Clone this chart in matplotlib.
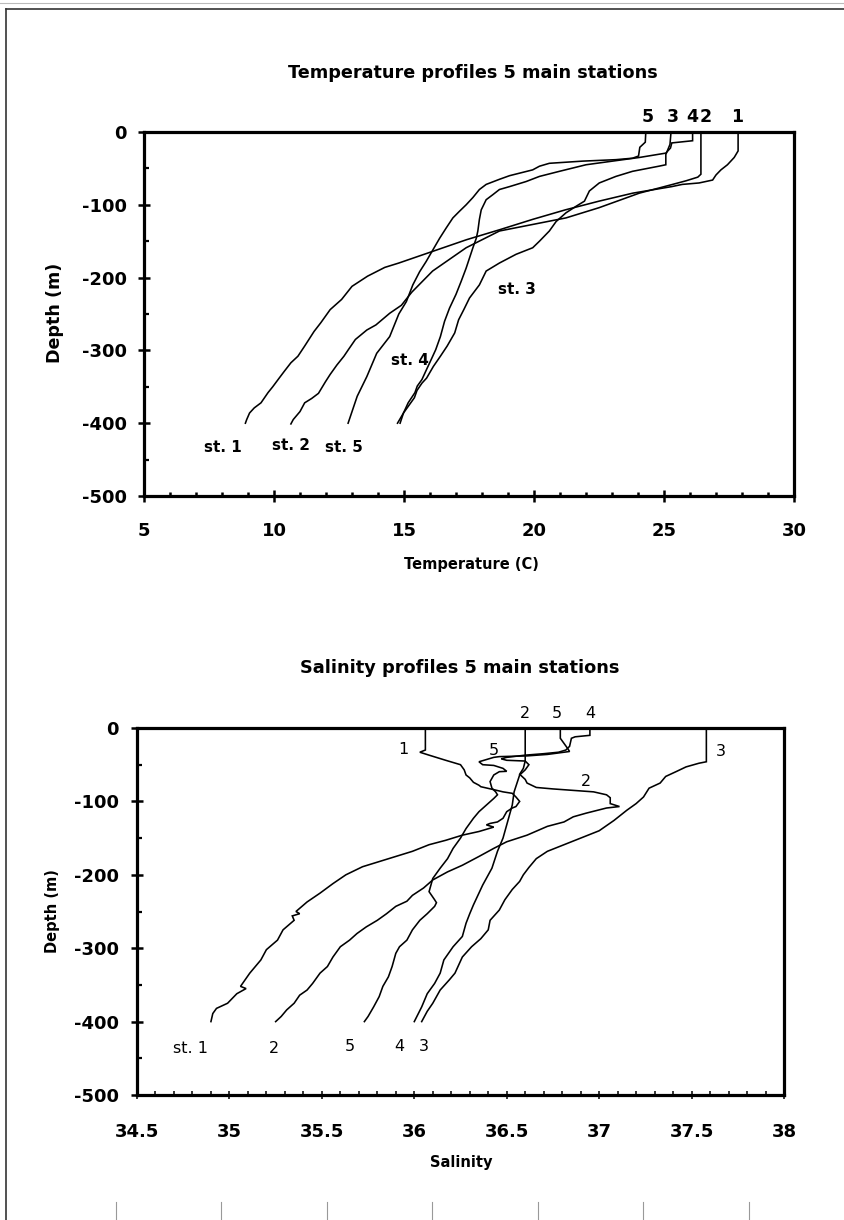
import matplotlib
matplotlib.use("Agg")
import matplotlib.pyplot as plt
from matplotlib.ticker import MultipleLocator, FuncFormatter
from matplotlib.lines import Line2D

# ---- temperature profiles (deg C vs depth in m) ----
t1_temp = [27.85, 27.85, 27.7, 27.44, 27.19, 27.0, 26.87, 26.35, 25.7, 25.3, 23.8, 22.5,
           21.2, 19.95, 18.7, 17.4, 16.1, 14.8, 14.26, 13.6, 13.0, 12.6, 12.16, 11.8, 11.54,
           11.18, 10.92, 10.65, 10.39, 10.2, 9.95, 9.77, 9.5, 9.24, 9.06, 8.95, 8.9]
t1_depth = [0, -26, -35, -45, -52, -59, -66, -70, -72, -75, -84, -95,
            -107, -120, -134, -148, -164, -180, -186, -198, -212, -230, -244, -262, -274,
            -294, -308, -317, -329, -338, -350, -358, -372, -379, -386, -395, -400]

t2_temp = [26.42, 26.42, 26.3, 25.85, 25.33, 24.8, 24.05, 22.5, 21.23, 19.95, 18.67, 17.39,
           16.1, 15.3, 14.9, 14.45, 13.92, 13.57, 13.13, 12.86, 12.69, 12.42, 12.16, 11.98,
           11.71, 11.45, 11.18, 11.0, 10.74, 10.65]
t2_depth = [0, -58, -62, -67, -72, -77, -84, -104, -118, -127, -136, -159,
            -191, -220, -238, -249, -265, -272, -285, -299, -308, -320, -333, -343,
            -359, -366, -372, -384, -395, -401]

t3_temp = [25.27, 25.23, 25.07, 25.07, 24.8, 23.79, 23.15, 22.51, 22.13, 21.94, 21.62, 21.23,
           20.85, 20.59, 20.21, 19.95, 19.31, 18.67, 18.16, 17.9, 17.52, 17.3, 17.1, 16.95,
           16.66, 16.4, 16.13, 15.87, 15.69, 15.5, 15.4, 15.16, 14.98, 14.85]
t3_depth = [0, -17, -31, -45, -47, -54, -61, -70, -81, -95, -102, -111,
            -123, -136, -150, -159, -168, -180, -191, -210, -228, -244, -258, -276,
            -294, -308, -322, -338, -345, -355, -365, -377, -386, -400]

t4_temp = [26.1, 26.1, 25.3, 25.25, 25.07, 24.56, 24.05, 23.02, 22.0, 20.98, 20.21, 19.7,
           19.06, 18.67, 18.42, 18.16, 17.97, 17.9, 17.84, 17.78, 17.65, 17.52, 17.39, 17.2,
           17.0, 16.75, 16.56, 16.4, 16.22, 16.04, 15.87, 15.69, 15.51, 15.42, 15.16, 14.98, 14.75]
t4_depth = [0, -12, -15, -22, -29, -32, -35, -40, -45, -54, -61, -68,
            -75, -79, -86, -93, -107, -120, -136, -146, -159, -173, -187, -205,
            -223, -242, -260, -281, -299, -313, -326, -340, -349, -358, -372, -386, -400]

t5_temp = [24.3, 24.28, 24.07, 24.02, 23.79, 23.15, 21.87, 20.59, 20.21, 19.95, 19.06, 18.67,
           18.16, 17.9, 17.65, 17.39, 17.13, 16.88, 16.62, 16.37, 16.11, 15.85, 15.6, 15.34,
           15.09, 14.8, 14.45, 13.95, 13.57, 13.2, 12.85]
t5_depth = [0, -14, -21, -33, -36, -38, -40, -43, -47, -52, -60, -65,
            -72, -79, -90, -100, -109, -118, -132, -146, -162, -178, -192, -210,
            -233, -250, -281, -304, -336, -363, -400]

# ---- salinity profiles ----
s1_sal = [36.06, 36.06, 36.03, 36.08, 36.17, 36.25, 36.27, 36.28, 36.3, 36.32, 36.35, 36.36,
          36.43, 36.48, 36.53, 36.55, 36.57, 36.55, 36.53, 36.5, 36.48, 36.45, 36.41, 36.39,
          36.43, 36.35, 36.26, 36.17, 36.08, 35.99, 35.9, 35.81, 35.72, 35.63, 35.56, 35.49,
          35.42, 35.36, 35.38, 35.34, 35.35, 35.29, 35.26, 35.2, 35.17, 35.11, 35.06, 35.09,
          35.04, 34.99, 34.93, 34.91, 34.9]
s1_depth = [0, -30, -33, -37, -44, -50, -57, -64, -68, -74, -78, -80,
            -84, -87, -89, -94, -100, -107, -109, -114, -123, -128, -130, -132,
            -135, -141, -146, -153, -159, -168, -175, -182, -189, -200, -212, -225,
            -237, -250, -253, -256, -262, -275, -289, -302, -316, -334, -352, -355,
            -362, -375, -382, -389, -400]

s2_sal = [36.6, 36.6, 36.59, 36.57, 36.6, 36.61, 36.66, 36.75, 36.86, 36.97, 37.04, 37.06,
          37.06, 37.11, 37.04, 36.93, 36.86, 36.81, 36.72, 36.61, 36.5, 36.43, 36.35, 36.26,
          36.18, 36.1, 36.05, 35.99, 35.96, 35.9, 35.85, 35.8, 35.74, 35.69, 35.65, 35.6,
          35.56, 35.53, 35.49, 35.45, 35.42, 35.38, 35.35, 35.31, 35.28, 35.25]
s2_depth = [0, -45, -55, -63, -70, -75, -81, -83, -85, -87, -91, -95,
            -103, -107, -109, -116, -121, -128, -134, -146, -155, -164, -175, -187,
            -196, -207, -218, -228, -236, -243, -253, -262, -271, -280, -289, -298,
            -312, -325, -334, -348, -357, -364, -375, -384, -393, -400]

s3_sal = [37.58, 37.58, 37.54, 37.47, 37.42, 37.36, 37.33, 37.27, 37.24, 37.2, 37.15, 37.08,
          37.0, 36.9, 36.81, 36.72, 36.66, 36.62, 36.59, 36.57, 36.53, 36.49, 36.46, 36.41,
          36.4, 36.36, 36.31, 36.26, 36.22, 36.19, 36.14, 36.1, 36.07, 36.04]
s3_depth = [0, -46, -48, -53, -59, -66, -75, -82, -94, -103, -112, -126,
            -140, -150, -159, -168, -178, -190, -200, -209, -220, -234, -248, -262,
            -275, -287, -298, -312, -334, -343, -357, -375, -386, -400]

s4_sal = [36.95, 36.95, 36.87, 36.85, 36.84, 36.82, 36.78, 36.7, 36.6, 36.5, 36.47, 36.5,
          36.6, 36.62, 36.6, 36.57, 36.54, 36.53, 36.5, 36.48, 36.45, 36.42, 36.37, 36.32,
          36.3, 36.28, 36.26, 36.21, 36.16, 36.14, 36.11, 36.07, 36.04, 36.0]
s4_depth = [0, -10, -12, -14, -25, -30, -33, -35, -37, -40, -42, -44,
            -45, -50, -57, -64, -87, -105, -132, -150, -168, -191, -214, -241,
            -253, -266, -284, -298, -316, -334, -348, -362, -380, -400]

s5_sal = [36.79, 36.79, 36.81, 36.83, 36.84, 36.72, 36.61, 36.46, 36.43, 36.35, 36.37, 36.43,
          36.48, 36.5, 36.46, 36.43, 36.41, 36.42, 36.44, 36.45, 36.43, 36.39, 36.35, 36.32,
          36.28, 36.25, 36.21, 36.18, 36.14, 36.1, 36.09, 36.08, 36.11, 36.12, 36.11, 36.07,
          36.03, 35.99, 35.96, 35.92, 35.9, 35.88, 35.86, 35.83, 35.81, 35.78, 35.75, 35.73]
s5_depth = [0, -14, -21, -28, -32, -36, -38, -39, -40, -46, -50, -51,
            -55, -59, -59.5, -64, -73, -82, -87, -91, -96, -105, -114, -123,
            -137, -150, -164, -178, -191, -205, -214, -223, -234, -238, -243, -253,
            -262, -275, -289, -298, -307, -325, -339, -352, -366, -380, -393, -400]

# station tags: (text, x, depth)
temp_top_tags = [("5", 24.38), ("3", 25.35), ("4", 26.08), ("2", 26.62), ("1", 27.81)]
temp_tags = [("st. 1", 8.04, -433), ("st. 2", 10.65, -431), ("st. 5", 12.69, -434),
             ("st. 4", 15.23, -314), ("st. 3", 19.35, -217)]
sal_top_tags = [("2", 36.6), ("5", 36.77), ("4", 36.95)]
sal_inner_tags = [("1", 35.94, -29), ("5", 36.43, -31), ("2", 36.93, -73), ("3", 37.66, -32)]
sal_bottom_tags = [("st. 1", 34.79, -436), ("2", 35.24, -436), ("5", 35.65, -434),
                   ("4", 35.92, -434), ("3", 36.05, -434)]

W, H = 845, 1220
plt.rcParams["font.family"] = ["DejaVu Sans"]
plt.rcParams["font.weight"] = "bold"
plt.rcParams["axes.unicode_minus"] = False

fig = plt.figure(figsize=(W / 100, H / 100), dpi=100)


def fx(x):
    return x / W


def fy(y):
    return 1 - y / H


def box(left, top, right, bottom):
    return [fx(left), fy(bottom), fx(right) - fx(left), fy(top) - fy(bottom)]


def style_axes(ax, xmaj, xmin, xfmt_pad, ypad, xtick_len, xtick_w):
    for sp in ax.spines.values():
        sp.set_linewidth(2.3)
    ax.set_ylim(-500, 0)
    ax.yaxis.set_major_locator(MultipleLocator(100))
    ax.yaxis.set_minor_locator(MultipleLocator(50))
    ax.xaxis.set_major_locator(MultipleLocator(xmaj))
    ax.xaxis.set_minor_locator(MultipleLocator(xmin))
    ax.xaxis.set_major_formatter(FuncFormatter(lambda v, p: f"{v:g}"))
    ax.yaxis.set_major_formatter(FuncFormatter(lambda v, p: f"{v:g}"))
    ax.tick_params(axis="y", which="major", direction="inout", length=8.5, width=1.8,
                   pad=ypad, labelsize=13)
    ax.tick_params(axis="y", which="minor", direction="in", length=3.5, width=1.6)
    ax.tick_params(axis="x", which="major", direction="inout", length=xtick_len,
                   width=xtick_w, pad=xfmt_pad, labelsize=13)
    ax.tick_params(axis="x", which="minor", direction="in", length=3, width=xtick_w)


line_kw = dict(color="black", lw=1.15, solid_joinstyle="miter")

# ---------- temperature ----------
ax1 = fig.add_axes(box(144, 132, 794, 496))
ax1.set_xlim(5, 30)
style_axes(ax1, 5, 1, 14, 8, 9, 1.8)
for t, d in [(t1_temp, t1_depth), (t2_temp, t2_depth), (t3_temp, t3_depth),
             (t4_temp, t4_depth), (t5_temp, t5_depth)]:
    ax1.plot(t, d, **line_kw)
for txt, x in temp_top_tags:
    ax1.text(x, 8, txt, ha="center", va="bottom", fontsize=12.5, clip_on=False)
for txt, x, d in temp_tags:
    ax1.text(x, d, txt, ha="center", va="center", fontsize=11)

fig.text(fx(473), fy(78), "Temperature profiles 5 main stations", ha="center",
         va="baseline", fontsize=12.7)
fig.text(fx(471), fy(569), "Temperature (C)", ha="center", va="baseline", fontsize=10.5)
fig.text(fx(55), fy(313), "Depth (m)", ha="center", va="center", rotation=90, fontsize=12.6)

# ---------- salinity ----------
ax2 = fig.add_axes(box(137, 728, 784, 1095))
ax2.set_xlim(34.5, 38)
style_axes(ax2, 0.5, 0.1, 17, 9, 6, 1.1)
for s, d in [(s1_sal, s1_depth), (s2_sal, s2_depth), (s3_sal, s3_depth),
             (s4_sal, s4_depth), (s5_sal, s5_depth)]:
    ax2.plot(s, d, **line_kw)
for txt, x in sal_top_tags:
    ax2.text(x, 10, txt, ha="center", va="bottom", fontsize=11.5, fontweight="normal",
             clip_on=False)
for txt, x, d in sal_inner_tags:
    ax2.text(x, d, txt, ha="center", va="center", fontsize=11.5, fontweight="normal")
for txt, x, d in sal_bottom_tags:
    ax2.text(x, d, txt, ha="center", va="center", fontsize=11.5, fontweight="normal")

fig.text(fx(460), fy(673), "Salinity profiles 5 main stations", ha="center",
         va="baseline", fontsize=12.8)
fig.text(fx(461), fy(1167), "Salinity", ha="center", va="baseline", fontsize=10.5)
fig.text(fx(53), fy(911), "Depth (m)", ha="center", va="center", rotation=90, fontsize=10.5)

# ---------- page border and marks ----------
fig.add_artist(Line2D([fx(6), fx(845)], [fy(9), fy(9)], color="#333333", lw=1.2))
fig.add_artist(Line2D([fx(0), fx(845)], [fy(3), fy(3)], color="#bbbbbb", lw=0.8))
fig.add_artist(Line2D([fx(6), fx(6)], [fy(9), fy(1220)], color="#333333", lw=1.2))
for mx in [116, 221, 327, 432, 538, 643, 749]:
    fig.add_artist(Line2D([fx(mx), fx(mx)], [fy(1202), fy(1220)], color="#999999", lw=0.8))

fig.savefig("out.png", dpi=100)
